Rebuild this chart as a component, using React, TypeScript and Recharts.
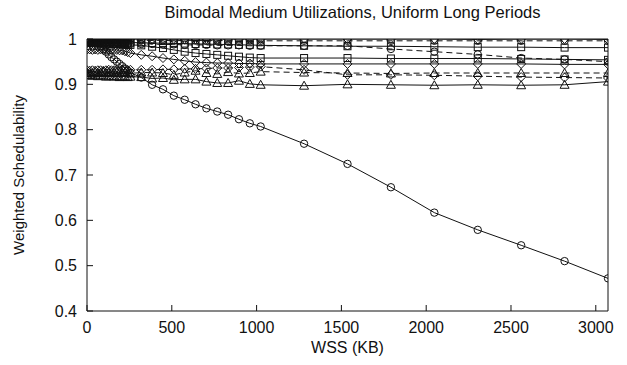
import { LineChart, Line, XAxis, YAxis } from 'recharts';

// WSS sample points (KB)
const wss = [
  0, 16, 32, 48, 64, 80, 96, 112, 128, 144, 160, 176, 192, 208, 224, 240, 256,
  320, 384, 448, 512, 576, 640, 704, 768, 832, 896, 960, 1024,
  1280, 1536, 1792, 2048, 2304, 2560, 2816, 3072,
];

const topSolid = [
  1, 1, 1, 1, 1, 1, 1, 1, 1, 1, 1, 1, 1, 1, 1, 1, 1,
  1, 1, 1, 1, 1, 1, 1, 1, 1, 1, 1, 1,
  1, 1, 1, 1, 0.999, 1, 1, 0.999,
];
const topDashed = [
  0.998, 0.998, 0.998, 0.997, 0.998, 0.997, 0.997, 0.998, 0.997, 0.997, 0.997, 0.998, 0.997, 0.997, 0.997, 0.996, 0.997,
  0.997, 0.997, 0.997, 0.996, 0.997, 0.997, 0.996, 0.997, 0.996, 0.996, 0.997, 0.996,
  0.996, 0.996, 0.996, 0.996, 0.996, 0.996, 0.996, 0.996,
];
const highSquare = [
  0.995, 0.995, 0.995, 0.994, 0.995, 0.994, 0.994, 0.994, 0.993, 0.994, 0.993, 0.993, 0.993, 0.992, 0.993, 0.992, 0.992,
  0.992, 0.991, 0.991, 0.99, 0.99, 0.989, 0.989, 0.988, 0.988, 0.987, 0.987, 0.986,
  0.985, 0.984, 0.984, 0.983, 0.982, 0.982, 0.981, 0.981,
];
const highDashed = [
  0.993, 0.993, 0.992, 0.993, 0.992, 0.992, 0.991, 0.992, 0.991, 0.991, 0.99, 0.991, 0.99, 0.99, 0.99, 0.989, 0.989,
  0.989, 0.989, 0.988, 0.988, 0.987, 0.987, 0.987, 0.986, 0.986, 0.986, 0.985, 0.985,
  0.985, 0.985, 0.978, 0.972, 0.966, 0.958, 0.955, 0.95,
];
const midSquare = [
  0.992, 0.992, 0.991, 0.991, 0.991, 0.99, 0.99, 0.99, 0.99, 0.989, 0.989, 0.989, 0.988, 0.988, 0.988, 0.987, 0.987,
  0.986, 0.983, 0.98, 0.976, 0.972, 0.969, 0.967, 0.965, 0.963, 0.961, 0.959, 0.958,
  0.958, 0.958, 0.957, 0.957, 0.957, 0.956, 0.955, 0.954,
];
const diamondSolid = [
  0.977, 0.977, 0.976, 0.977, 0.976, 0.977, 0.976, 0.976, 0.977, 0.976, 0.976, 0.976, 0.975, 0.975, 0.973, 0.971, 0.969,
  0.965, 0.962, 0.958, 0.955, 0.952, 0.949, 0.948, 0.947, 0.947, 0.946, 0.946, 0.945,
  0.945, 0.945, 0.945, 0.945, 0.945, 0.945, 0.944, 0.944,
];
const triangleDashed = [
  0.925, 0.926, 0.924, 0.927, 0.925, 0.926, 0.928, 0.925, 0.927, 0.926, 0.925, 0.928, 0.926, 0.925, 0.927, 0.926, 0.924,
  0.926, 0.926, 0.925, 0.921, 0.926, 0.93, 0.925, 0.923, 0.927, 0.924, 0.925, 0.928,
  0.926, 0.925, 0.924, 0.925, 0.925, 0.925, 0.925, 0.925,
];
const diamondDashed = [
  0.931, 0.93, 0.931, 0.93, 0.931, 0.931, 0.93, 0.931, 0.932, 0.931, 0.931, 0.932, 0.931, 0.932, 0.932, 0.931, 0.932,
  0.932, 0.932, 0.933, 0.933, 0.934, 0.934, 0.935, 0.936, 0.936, 0.937, 0.938, 0.939,
  0.932, 0.921, 0.921, 0.92, 0.918, 0.916, 0.915, 0.914,
];
const triangleSolid = [
  0.92, 0.921, 0.919, 0.92, 0.918, 0.919, 0.92, 0.917, 0.918, 0.919, 0.917, 0.918, 0.916, 0.917, 0.918, 0.916, 0.917,
  0.916, 0.913, 0.914, 0.91, 0.911, 0.911, 0.906, 0.903, 0.903, 0.908, 0.901, 0.899,
  0.897, 0.9, 0.899, 0.898, 0.899, 0.898, 0.899, 0.906,
];
const circleFalling = [
  0.998, 0.998, 0.997, 0.995, 0.99, 0.984, 0.978, 0.972, 0.966, 0.96, 0.955, 0.95, 0.945, 0.94, 0.935, 0.93, 0.926,
  0.915, 0.899, 0.889, 0.875, 0.866, 0.856, 0.847, 0.84, 0.833, 0.823, 0.814, 0.807,
  0.769, 0.7245, 0.673, 0.617, 0.579, 0.545, 0.51, 0.472,
];

const xTicks = [0, 500, 1000, 1500, 2000, 2500, 3000];
const yTicks = [0.4, 0.5, 0.6, 0.7, 0.8, 0.9, 1];

const series = [
  { key: 'topSolid', values: topSolid, shape: 'diamond', dashed: false },
  { key: 'topDashed', values: topDashed, shape: 'circle', dashed: true },
  { key: 'highSquare', values: highSquare, shape: 'square', dashed: false },
  { key: 'highDashed', values: highDashed, shape: 'circle', dashed: true },
  { key: 'midSquare', values: midSquare, shape: 'square', dashed: false },
  { key: 'diamondSolid', values: diamondSolid, shape: 'diamond', dashed: false },
  { key: 'triangleDashed', values: triangleDashed, shape: 'triangle', dashed: true },
  { key: 'diamondDashed', values: diamondDashed, shape: 'diamond', dashed: true },
  { key: 'triangleSolid', values: triangleSolid, shape: 'triangle', dashed: false },
  { key: 'circleFalling', values: circleFalling, shape: 'circle', dashed: false },
];

const data = wss.map((w, i) => {
  const row: Record<string, number> = { wss: w };
  series.forEach((s) => {
    row[s.key] = s.values[i];
  });
  return row;
});

const FONT = '"Liberation Sans", Arial, sans-serif';

function Marker({ cx, cy, shape }: { cx?: number; cy?: number; shape: string }) {
  if (cx == null || cy == null) return null;
  const common = { fill: 'none', stroke: '#111', strokeWidth: 1 };
  if (shape === 'circle') return <circle cx={cx} cy={cy} r={3.7} {...common} />;
  if (shape === 'square') return <rect x={cx - 3.5} y={cy - 3.5} width={7} height={7} {...common} />;
  if (shape === 'diamond')
    return <polygon points={`${cx},${cy - 4.5} ${cx + 4.5},${cy} ${cx},${cy + 4.5} ${cx - 4.5},${cy}`} {...common} />;
  return <polygon points={`${cx},${cy - 4.5} ${cx + 4.5},${cy + 3.5} ${cx - 4.5},${cy + 3.5}`} {...common} />;
}

export default function App() {
  return (
    <div style={{ position: 'absolute', left: 0, top: 0, width: 627, height: 365, background: '#fff', fontFamily: FONT }}>
      <div style={{ position: 'absolute', left: 92, width: 521, top: 3, textAlign: 'center', fontSize: 16.5, color: '#111' }}>
        Bimodal Medium Utilizations, Uniform Long Periods
      </div>
      <div
        style={{
          position: 'absolute', left: 18, top: 175, fontSize: 15, color: '#111', whiteSpace: 'nowrap',
          transform: 'translate(-50%, -50%) rotate(-90deg)',
        }}
      >
        Weighted Schedulability
      </div>
      <div style={{ position: 'absolute', left: 87, width: 521, top: 339, textAlign: 'center', fontSize: 16, color: '#111' }}>
        WSS (KB)
      </div>
      <LineChart width={627} height={365} data={data} margin={{ top: 39, right: 19, left: 37, bottom: 24 }}>
        <XAxis
          dataKey="wss" type="number" domain={[0, 3072]} ticks={xTicks} allowDataOverflow
          height={30} tickSize={-6} tickMargin={17}
          stroke="#111" tick={{ fontSize: 16, fill: '#111', fontFamily: FONT }}
        />
        <XAxis
          xAxisId="top" orientation="top" mirror type="number" domain={[0, 3072]} ticks={xTicks}
          dataKey="wss" tick={false} tickSize={6} stroke="#111"
        />
        <YAxis
          type="number" domain={[0.4, 1]} ticks={yTicks} allowDataOverflow width={50}
          tickSize={-6} tickMargin={16} stroke="#111" tick={{ fontSize: 16, fill: '#111', fontFamily: FONT }}
        />
        <YAxis
          yAxisId="right" orientation="right" mirror type="number" domain={[0.4, 1]} ticks={yTicks}
          tick={false} tickSize={6} stroke="#111"
        />
        {series.map((s) => (
          <Line
            key={s.key}
            dataKey={s.key}
            stroke="#111"
            strokeWidth={1}
            strokeDasharray={s.dashed ? '6 4' : undefined}
            isAnimationActive={false}
            dot={(p: any) => <Marker key={`${s.key}-${p.index}`} cx={p.cx} cy={p.cy} shape={s.shape} />}
            activeDot={false}
          />
        ))}
      </LineChart>
    </div>
  );
}
